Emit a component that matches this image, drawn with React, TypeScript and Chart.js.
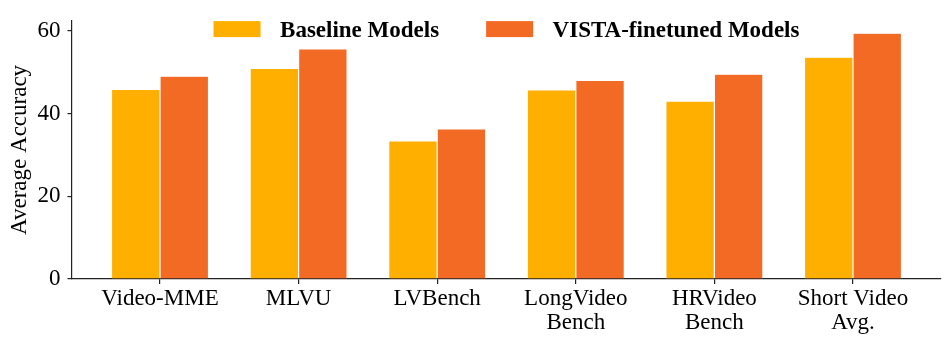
import React, { useEffect, useRef } from "react";
import { Chart, registerables } from "chart.js";

Chart.register(...registerables);

const categories: string[][] = [
  ["Video-MME"],
  ["MLVU"],
  ["LVBench"],
  ["LongVideo", "Bench"],
  ["HRVideo", "Bench"],
  ["Short Video", "Avg."],
];
const baselineValues = [45.8, 50.9, 33.4, 45.7, 43.0, 53.6];
const vistaValues = [49.0, 55.6, 36.3, 48.0, 49.5, 59.4];
const yTicks = [0, 20, 40, 60];
const seriesLabels = ["Baseline Models", "VISTA-finetuned Models"];
const seriesColors = ["#FFAF00", "#F26A24"];

const FONT = '"Liberation Serif", "Times New Roman", serif';

const legendPlugin = {
  id: "topLegend",
  afterDraw(chart: any) {
    const ctx = chart.ctx;
    const area = chart.chartArea;
    ctx.save();
    ctx.font = `bold 23px ${FONT}`;
    const boxW = 47, boxH = 16, gap = 19.5, itemGap = 47;
    const items = chart.data.datasets.map((ds: any) => ({
      label: ds.label,
      color: ds.backgroundColor,
      w: ctx.measureText(ds.label).width,
    }));
    const total =
      items.reduce((s: number, it: any) => s + boxW + gap + it.w, 0) +
      itemGap * (items.length - 1);
    let x = (area.left + area.right) / 2 - total / 2;
    const top = area.top + 0.3;
    for (const it of items) {
      ctx.fillStyle = it.color;
      ctx.fillRect(x, top, boxW, boxH);
      x += boxW + gap;
      ctx.fillStyle = "#000";
      ctx.textBaseline = "alphabetic";
      ctx.textAlign = "left";
      ctx.fillText(it.label, x, top + boxH);
      x += it.w + itemGap;
    }
    ctx.restore();
  },
};

export default function App() {
  const ref = useRef<HTMLCanvasElement | null>(null);

  useEffect(() => {
    if (!ref.current) return;
    const chart = new Chart(ref.current, {
      type: "bar",
      data: {
        datasets: [
          {
            label: seriesLabels[0],
            data: baselineValues.map((v, i) => ({ x: i, y: v })),
            backgroundColor: seriesColors[0],
            borderColor: "rgba(255,255,255,0.7)",
            borderWidth: 0.6,
          },
          {
            label: seriesLabels[1],
            data: vistaValues.map((v, i) => ({ x: i, y: v })),
            backgroundColor: seriesColors[1],
            borderColor: "rgba(255,255,255,0.7)",
            borderWidth: 0.6,
          },
        ],
      },
      options: {
        responsive: false,
        animation: false,
        devicePixelRatio: 1,
        layout: { padding: { top: 20, right: 11, left: 0, bottom: 0 } },
        datasets: { bar: { categoryPercentage: 0.7, barPercentage: 1.0 } },
        plugins: { legend: { display: false }, tooltip: { enabled: false } },
        scales: {
          x: {
            type: "linear",
            offset: false,
            min: -0.635,
            max: 5.635,
            afterBuildTicks: (scale: any) => {
              scale.ticks = categories.map((_, i) => ({ value: i }));
            },
            afterFit: (scale: any) => {
              scale.height = 68;
            },
            ticks: {
              autoSkip: false,
              maxRotation: 0,
              padding: 3,
              color: "#000",
              font: { family: FONT, size: 23, lineHeight: 1.04 },
              callback: (value: any) => categories[value as number] ?? "",
            },
            grid: {
              offset: false,
              drawOnChartArea: false,
              drawTicks: true,
              tickLength: 5,
              color: "#222",
              lineWidth: 1.2,
            },
            border: { display: true, color: "#222", width: 1.2 },
          },
          y: {
            min: 0,
            max: 62.4,
            afterBuildTicks: (scale: any) => {
              scale.ticks = yTicks.map((v) => ({ value: v }));
            },
            afterFit: (scale: any) => {
              scale.width = 72;
            },
            ticks: {
              padding: 7,
              color: "#000",
              font: { family: FONT, size: 23 },
            },
            grid: {
              drawOnChartArea: false,
              drawTicks: true,
              tickLength: 4.5,
              color: "#222",
              lineWidth: 1.2,
            },
            border: { display: true, color: "#222", width: 1.2 },
            title: {
              display: true,
              text: "Average Accuracy",
              color: "#000",
              font: { family: FONT, size: 23 },
              padding: { top: 6, bottom: 0 },
            },
          },
        },
      },
      plugins: [legendPlugin],
    });
    return () => chart.destroy();
  }, []);

  return (
    <div style={{ position: "fixed", left: 0, top: 0, width: 952, height: 347, background: "#fff" }}>
      <canvas ref={ref} width={952} height={347} />
    </div>
  );
}
